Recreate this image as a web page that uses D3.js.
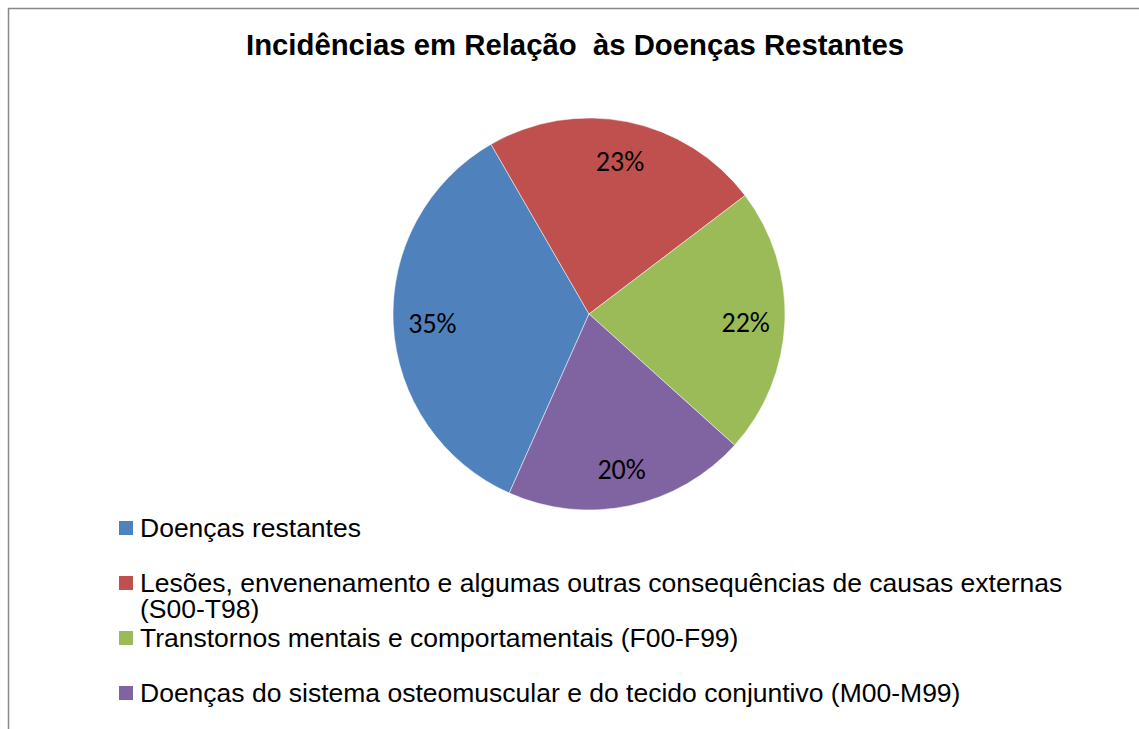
<!DOCTYPE html>
<html><head><meta charset="utf-8">
<script src="https://cdn.jsdelivr.net/npm/d3@7/dist/d3.min.js"></script>
<style>body{margin:0;background:#fff}svg{display:block}</style>
</head><body>
<svg id="c" width="1139" height="729"></svg>
<script>
const categories = [
  "Doenças restantes",
  "Lesões, envenenamento e algumas outras consequências de causas externas (S00-T98)",
  "Transtornos mentais e comportamentais (F00-F99)",
  "Doenças do sistema osteomuscular e do tecido conjuntivo (M00-M99)"
];
const legendLines = [
  ["Doenças restantes"],
  ["Lesões, envenenamento e algumas outras consequências de causas externas", "(S00-T98)"],
  ["Transtornos mentais e comportamentais (F00-F99)"],
  ["Doenças do sistema osteomuscular e do tecido conjuntivo (M00-M99)"]
];
const values = [35, 23, 22, 20];
const labels = ["35%", "23%", "22%", "20%"];
const colors = ["#4F81BD", "#C0504D", "#9BBB59", "#8064A2"];
const title = "Incidências em Relação  às Doenças Restantes";

const svg = d3.select("#c");
// frame
svg.append("path").attr("d", "M8.5,729 L8.5,8.5 L1139,8.5")
  .attr("fill", "none").attr("stroke", "#888").attr("stroke-width", 1.5);

svg.append("text").attr("x", 575).attr("y", 55).attr("text-anchor", "middle")
  .attr("font-family", "Liberation Sans, Arial, sans-serif").attr("font-weight", "bold")
  .attr("font-size", 29).attr("textLength", 658).attr("lengthAdjust", "spacingAndGlyphs")
  .style("white-space", "pre").text(title);

const cx = 589, cy = 314, r = 196;
const start = 204 * Math.PI / 180;
const pie = d3.pie().sort(null).startAngle(start).endAngle(start + 2 * Math.PI);
const arcs = pie(values);
const arc = d3.arc().innerRadius(0).outerRadius(r);
const g = svg.append("g").attr("transform", `translate(${cx},${cy})`);
g.selectAll("path").data(arcs).join("path")
  .attr("d", arc).attr("fill", (d, i) => colors[i])
  .attr("stroke", "#fff").attr("stroke-width", 0.5);

const labelArc = d3.arc().innerRadius(r * 0.8).outerRadius(r * 0.8);
g.selectAll("text").data(arcs).join("text")
  .attr("transform", d => `translate(${labelArc.centroid(d)})`)
  .attr("text-anchor", "middle").attr("dy", "0.4em")
  .attr("font-family", "Carlito, Lato, sans-serif").attr("font-size", 28)
  .attr("fill", "#000").text((d, i) => labels[i]);

const legY = [528, 583, 638, 693];
const lg = svg.append("g");
legendLines.forEach((lines, i) => {
  lg.append("rect").attr("x", 119).attr("y", legY[i] - 7).attr("width", 14).attr("height", 14)
    .attr("fill", colors[i]);
  const t = lg.append("text").attr("x", 140).attr("y", legY[i] + 9)
    .attr("font-family", "Liberation Sans, Arial, sans-serif").attr("font-size", 26.5)
    .attr("fill", "#000");
  lines.forEach((ln, j) => {
    t.append("tspan").attr("x", 140).attr("dy", j === 0 ? 0 : 26).text(ln);
  });
});
</script>
</body></html>
